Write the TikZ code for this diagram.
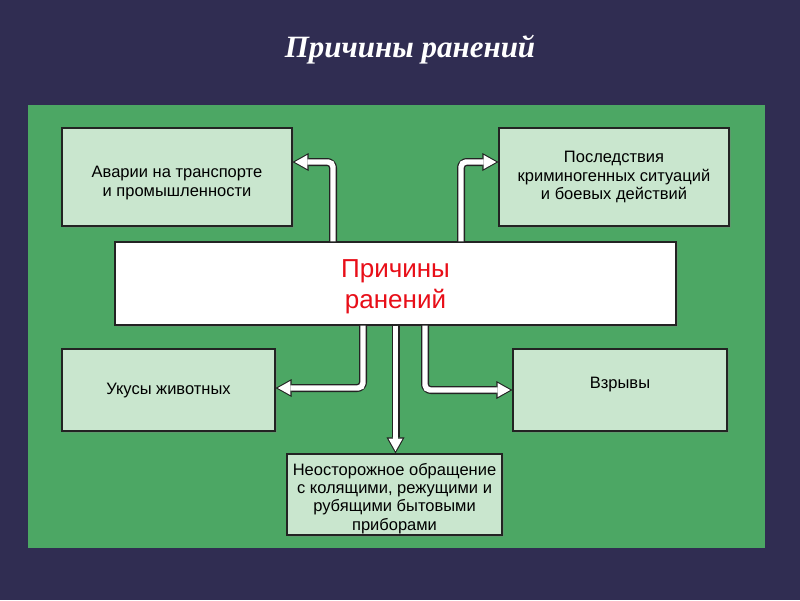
\documentclass[tikz,border=0pt]{standalone}
\usepackage{fontspec}
\setmainfont{Liberation Serif}
\newfontfamily\boxfont{Liberation Sans}
\usetikzlibrary{arrows.meta,shadows,calc}
\definecolor{bgnavy}{RGB}{48,45,82}
\definecolor{panelgreen}{RGB}{76,167,100}
\definecolor{boxgreen}{RGB}{201,230,206}
\definecolor{causered}{RGB}{232,14,24}
\definecolor{outline}{RGB}{35,35,35}
\tikzset{
  cause/.style={draw=outline, line width=1.2pt, fill=boxgreen, inner sep=0pt,
    drop shadow={shadow xshift=2pt, shadow yshift=-2pt, opacity=0.35}},
  causetext/.style={align=center, inner sep=0pt,
    font=\boxfont\fontsize{16.5}{18.3}\selectfont},
  centerbox/.style={draw=outline, line width=1.2pt, fill=white, inner sep=0pt,
    drop shadow={shadow xshift=2pt, shadow yshift=-2pt, opacity=0.35}},
  centertext/.style={align=center, inner sep=0pt,
    font=\boxfont\fontsize{26}{31}\selectfont, text=causered},
  connout/.style={draw=outline, line width=8pt, rounded corners=6pt,
    -{Triangle[width=18pt,length=16pt,line width=0pt]}},
  connin/.style={draw=white, line width=5.4pt, rounded corners=5pt, shorten >=2.2pt,
    -{Triangle[width=14pt,length=12.5pt,line width=0pt]}},
}
\begin{document}
\begin{tikzpicture}[x=1pt,y=-1pt]
\fill[bgnavy] (0,0) rectangle (800,600);
\useasboundingbox (0,0) rectangle (800,600);
\fill[panelgreen] (28,105) rectangle (765,548);
\node[text=white, font=\fontsize{31}{34}\selectfont\bfseries\itshape] (title) at (410,50) {Причины ранений};

\node[centerbox, minimum width=561pt, minimum height=83pt] (c) at (395.5,283.5) {};
\node[centertext] (ct) at ([yshift=-3pt]c.center) {Причины\\ранений};
\node[cause, minimum width=230pt, minimum height=98pt] (tl) at (177,177) {};
\node[cause, minimum width=230pt, minimum height=98pt] (tr) at (614,177) {};
\node[cause, minimum width=213pt, minimum height=82pt] (ml) at (168.5,390) {};
\node[cause, minimum width=214pt, minimum height=82pt] (mr) at (620,390) {};
\node[cause, minimum width=215pt, minimum height=81pt] (b) at (394.5,494.5) {};

\node[causetext] (tlt) at ([yshift=-6pt]tl.center) {Аварии на транспорте\\и промышленности};
\node[causetext] (trt) at (tr.center) {Последствия\\криминогенных ситуаций\\и боевых действий};
\node[causetext] (mlt) at ([yshift=-1pt]ml.center) {Укусы животных};
\node[causetext] (mrt) at ([yshift=5pt]mr.center) {Взрывы};
\node[causetext] (bt) at ([yshift=-4pt]b.center) {Неосторожное обращение\\с колящими, режущими и\\рубящими бытовыми\\приборами};

\foreach \s in {connout,connin}{
  \draw[\s] ([xshift=-62.5pt]c.north) |- ([yshift=15pt]tl.east);
  \draw[\s] ([xshift=65.5pt]c.north) |- ([yshift=15pt]tr.west);
  \draw[\s] ([xshift=-32.5pt]c.south) |- ([yshift=2pt]ml.east);
  \draw[\s] ([xshift=29.5pt]c.south) |- (mr.west);
  \draw[\s] (c.south) -- (c.south |- b.north);
}
\end{tikzpicture}
\end{document}
